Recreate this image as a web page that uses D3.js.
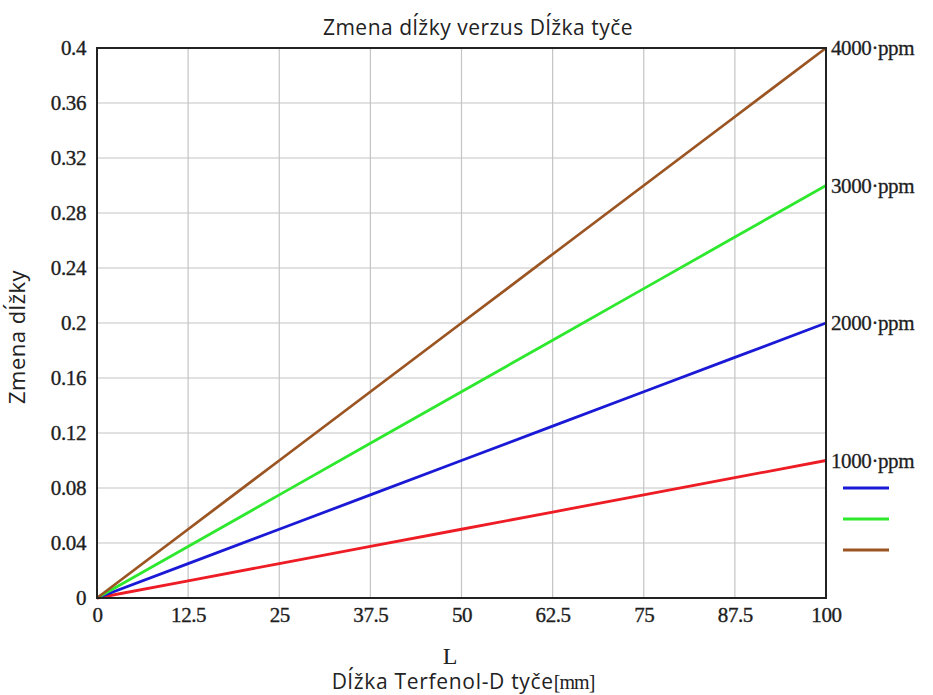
<!DOCTYPE html>
<html>
<head>
<meta charset="utf-8">
<script src="https://cdn.jsdelivr.net/npm/d3@7"></script>
<style>
  body { margin: 0; background: #fff; }
  svg { display: block; }
</style>
</head>
<body>
<div class="chart"></div>
<script>
// data
const lengths = [0, 12.5, 25, 37.5, 50, 62.5, 75, 87.5, 100];
const ppm1000 = [0, 0.0125, 0.025, 0.0375, 0.05, 0.0625, 0.075, 0.0875, 0.1];
const ppm2000 = [0, 0.025, 0.05, 0.075, 0.1, 0.125, 0.15, 0.175, 0.2];
const ppm3000 = [0, 0.0375, 0.075, 0.1125, 0.15, 0.1875, 0.225, 0.2625, 0.3];
const ppm4000 = [0, 0.05, 0.1, 0.15, 0.2, 0.25, 0.3, 0.35, 0.4];
const seriesNames = ["1000·ppm", "2000·ppm", "3000·ppm", "4000·ppm"];
const xTicks = [0, 12.5, 25, 37.5, 50, 62.5, 75, 87.5, 100];
const yTicks = [0, 0.04, 0.08, 0.12, 0.16, 0.2, 0.24, 0.28, 0.32, 0.36, 0.4];

const colors = ["#ee1c24", "#1a1ad6", "#2ee82e", "#9b5523"];
const allSeries = [ppm1000, ppm2000, ppm3000, ppm4000];

const W = 933, H = 695;
const m = {left: 97, right: 826, top: 48, bottom: 598};

const svg = d3.select(".chart").append("svg")
  .attr("width", W)
  .attr("height", H);

const x = d3.scaleLinear().domain([0, 100]).range([m.left, m.right]);
const y = d3.scaleLinear().domain([0, 0.4]).range([m.bottom, m.top]);

// grid
svg.append("g").selectAll("line").data(xTicks.slice(1, -1))
  .enter().append("line")
  .attr("x1", d => x(d)).attr("x2", d => x(d))
  .attr("y1", m.top).attr("y2", m.bottom)
  .attr("stroke", "#c4c4c4").attr("stroke-width", 1.2);

svg.append("g").selectAll("line").data(yTicks.slice(1, -1))
  .enter().append("line")
  .attr("x1", m.left).attr("x2", m.right)
  .attr("y1", d => y(d)).attr("y2", d => y(d))
  .attr("stroke", "#c4c4c4").attr("stroke-width", 1.2);

// axes (labels only, frame drawn below)
const xAxis = svg.append("g")
  .attr("transform", `translate(0,${m.bottom})`)
  .call(d3.axisBottom(x).tickValues(xTicks).tickSize(0).tickPadding(11).tickFormat(d => String(d)));
const yAxis = svg.append("g")
  .attr("transform", `translate(${m.left},0)`)
  .call(d3.axisLeft(y).tickValues(yTicks).tickSize(0).tickPadding(11).tickFormat(d => String(+d.toFixed(2))));
[xAxis, yAxis].forEach(a => {
  a.select(".domain").remove();
  a.selectAll("text")
    .attr("font-family", "'Liberation Serif', serif")
    .attr("font-size", 21)
    .attr("fill", "#1e1e1e")
    .attr("stroke", "#1e1e1e")
    .attr("stroke-width", 0.35)
    .style("letter-spacing", "-0.4px");
});
xAxis.selectAll("text").attr("dy", "0.6em");

// lines
const line = d3.line()
  .x((d, i) => x(lengths[i]))
  .y(d => y(d));

svg.append("g").selectAll("path").data(allSeries)
  .enter().append("path")
  .attr("d", d => line(d))
  .attr("fill", "none")
  .attr("stroke", (d, i) => colors[i])
  .attr("stroke-width", 2.8);

// frame
svg.append("rect")
  .attr("x", m.left).attr("y", m.top)
  .attr("width", m.right - m.left).attr("height", m.bottom - m.top)
  .attr("fill", "none").attr("stroke", "#222").attr("stroke-width", 2);

// right-side series labels
svg.append("g").selectAll("text").data(allSeries)
  .enter().append("text")
  .attr("x", m.right + 5)
  .attr("y", d => y(d[d.length - 1]) + 7)
  .attr("font-family", "'Liberation Serif', serif")
  .attr("font-size", 21)
  .attr("fill", "#1e1e1e")
  .attr("stroke", "#1e1e1e")
  .attr("stroke-width", 0.3)
  .style("letter-spacing", "-0.4px")
  .text((d, i) => seriesNames[i]);

// small legend swatches
const legendColors = [colors[1], colors[2], colors[3]];
svg.append("g").selectAll("line").data(legendColors)
  .enter().append("line")
  .attr("x1", 843).attr("x2", 889)
  .attr("y1", (d, i) => 488 + i * 31)
  .attr("y2", (d, i) => 488 + i * 31)
  .attr("stroke", d => d).attr("stroke-width", 3);

// title and axis titles
svg.append("text")
  .attr("x", 478).attr("y", 35)
  .attr("text-anchor", "middle")
  .attr("font-family", "'Open Sans', sans-serif")
  .attr("font-size", 21)
  .attr("fill", "#222")
  .style("letter-spacing", "0.5px")
  .text("Zmena dĺžky verzus Dĺžka tyče");

svg.append("text")
  .attr("transform", "translate(25,337) rotate(-90)")
  .attr("text-anchor", "middle")
  .attr("font-family", "'Open Sans', sans-serif")
  .attr("font-size", 22)
  .attr("fill", "#222")
  .style("letter-spacing", "0.5px")
  .text("Zmena dĺžky");

svg.append("text")
  .attr("x", 450).attr("y", 664)
  .attr("text-anchor", "middle")
  .attr("font-family", "'Liberation Serif', serif")
  .style("font-size", "24px")
  .attr("fill", "#222")
  .text("L");

const xt = svg.append("text")
  .attr("x", 463).attr("y", 689)
  .attr("text-anchor", "middle")
  .attr("font-family", "'Open Sans', sans-serif")
  .attr("font-size", 21)
  .attr("fill", "#222")
  .style("letter-spacing", "0.7px");
xt.append("tspan").text("Dĺžka Terfenol-D tyče");
xt.append("tspan")
  .attr("font-family", "'Liberation Serif', serif")
  .style("font-size", "20px")
  .style("letter-spacing", "-1px")
  .text("[mm]");
</script>
</body>
</html>
